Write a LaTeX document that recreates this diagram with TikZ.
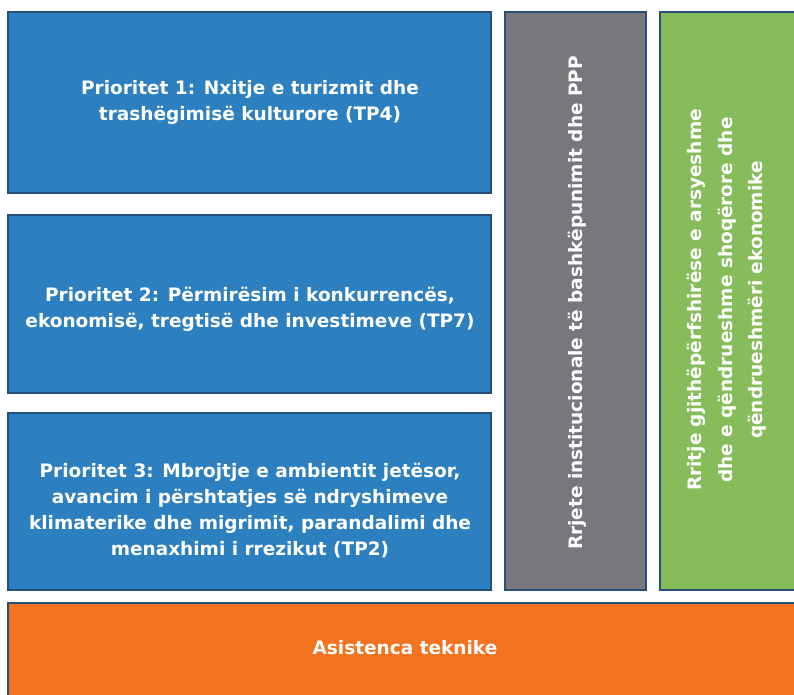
\documentclass[tikz,border=0pt]{standalone}
\usepackage{fontspec}
\setmainfont{DejaVu Sans}
\begin{document}
\begin{tikzpicture}[x=1pt,y=-1pt,
  box/.style={draw=boxedge,line width=1.6pt,inner sep=0pt},
  lbl/.style={text=white,font=\bfseries\fontsize{18.5}{26}\selectfont,align=center,inner sep=0pt},
  vlbl/.style={lbl,rotate=90,font=\bfseries\fontsize{18.5}{30.5}\selectfont}]
\definecolor{boxedge}{HTML}{24507A}
\definecolor{bluefill}{HTML}{2D80C0}
\definecolor{grayfill}{HTML}{78777C}
\definecolor{greenfill}{HTML}{86BC5A}
\definecolor{orangefill}{HTML}{F47320}
\useasboundingbox (0,0) rectangle (794,694);
\fill[white] (0,0) rectangle (794,694);
\draw[box,fill=bluefill] (8,12) rectangle (491,193);
\draw[box,fill=bluefill] (8,215) rectangle (491,393);
\draw[box,fill=bluefill] (8,413) rectangle (491,590);
\draw[box,fill=grayfill] (505,12) rectangle (646,590);
\draw[box,fill=greenfill] (660,12) rectangle (800,590);
\draw[box,fill=orangefill] (8,603) rectangle (800,700);
\node[lbl] (p1) at (250,102.5) {Prioritet 1: Nxitje e turizmit dhe\\trashëgimisë kulturore (TP4)};
\node[lbl] (p2) at (250,309) {Prioritet 2: Përmirësim i konkurrencës,\\ekonomisë, tregtisë dhe investimeve (TP7)};
\node[lbl] (p3) at (250,511) {Prioritet 3: Mbrojtje e ambientit jetësor,\\avancim i përshtatjes së ndryshimeve\\klimaterike dhe migrimit, parandalimi dhe\\menaxhimi i rrezikut (TP2)};
\node[vlbl] (r) at (577,303) {Rrjete institucionale të bashkëpunimit dhe PPP};
\node[vlbl] (g) at (727,300) {Rritje gjithëpërfshirëse e arsyeshme\\dhe e qëndrueshme shoqërore dhe\\qëndrueshmëri ekonomike};
\node[lbl] (a) at (405,648) {Asistenca teknike};
\end{tikzpicture}
\end{document}
